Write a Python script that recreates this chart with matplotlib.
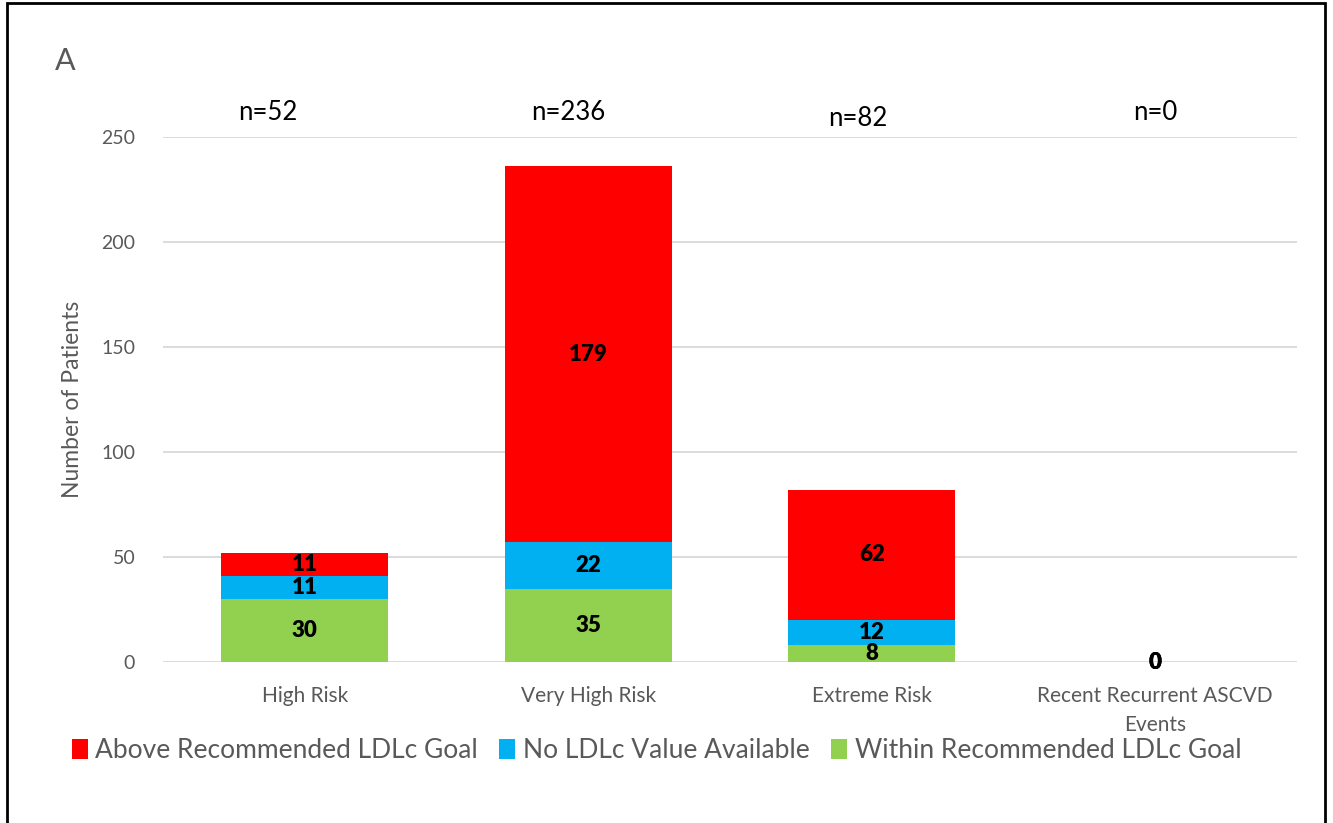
import numpy as np
import matplotlib
matplotlib.use("Agg")
import matplotlib.pyplot as plt
from matplotlib.patches import Rectangle

plt.rcParams['font.family'] = ['Lato', 'DejaVu Sans']

# data
categories = ['High Risk', 'Very High Risk', 'Extreme Risk', 'Recent Recurrent ASCVD\nEvents']
within_goal = [30, 35, 8, 0]
no_value = [11, 22, 12, 0]
above_goal = [11, 179, 62, 0]
totals = [52, 236, 82, 0]
series_names = ['Above Recommended LDLc Goal', 'No LDLc Value Available', 'Within Recommended LDLc Goal']

grey = '#595959'
c_red = '#FF0000'
c_blue = '#00B0F0'
c_green = '#92D050'

fig = plt.figure(figsize=(13.33, 8.23), dpi=100)
ax = fig.add_axes([0.1223, 0.1956, 0.8507, 0.6379])

x = np.arange(len(categories))
w = 0.59
b1 = ax.bar(x, within_goal, w, color=c_green, zorder=2)
b2 = ax.bar(x, no_value, w, bottom=within_goal, color=c_blue, zorder=2)
bottom3 = np.array(within_goal) + np.array(no_value)
b3 = ax.bar(x, above_goal, w, bottom=bottom3, color=c_red, zorder=2)

# value labels in the middle of each segment
for bars, vals, bots in [(b1, within_goal, [0]*4), (b2, no_value, within_goal), (b3, above_goal, bottom3)]:
    for i, v in enumerate(vals):
        ax.text(x[i], bots[i] + v / 2.0, str(v), ha='center', va='center',
                fontsize=16, fontweight='heavy', color='black', zorder=3)

# n= labels above the bars
n_pos = [(-0.13, 261.5), (0.93, 261.5), (1.95, 259), (3.0, 261.5)]
for (px, py), t in zip(n_pos, totals):
    ax.text(px, py, 'n=%d' % t, ha='center', va='center', fontsize=18.5,
            color='black', clip_on=False)

ax.set_xlim(-0.5, 3.5)
ax.set_ylim(0, 250)
ax.set_yticks([0, 50, 100, 150, 200, 250])
ax.set_xticks(x)
ax.set_xticklabels(categories, fontsize=15, color=grey, linespacing=1.6)
ax.tick_params(axis='y', labelsize=14, labelcolor=grey, length=0, pad=20)
ax.tick_params(axis='x', length=0, pad=17)
ax.set_ylabel('Number of Patients', fontsize=16.5, color=grey, labelpad=13)
ax.yaxis.grid(True, color='#D9D9D9', linewidth=1.3, zorder=0)
ax.set_axisbelow(True)
for s in ax.spines.values():
    s.set_visible(False)

fig.text(0.041, 0.926, 'A', fontsize=22, color=grey, ha='left', va='center')

leg = fig.legend([b3, b2, b1], series_names, loc='center left',
                 bbox_to_anchor=(0.036, 0.088), ncol=3, frameon=False,
                 fontsize=19, handlelength=0.6, handleheight=0.8,
                 handletextpad=0.3, columnspacing=0.8)
for t in leg.get_texts():
    t.set_color(grey)

# outer border
fig.patches.append(Rectangle((0.005, -0.01), 0.989, 1.006, transform=fig.transFigure,
                             fill=False, edgecolor='black', linewidth=2))

fig.savefig('out.png', dpi=100)
